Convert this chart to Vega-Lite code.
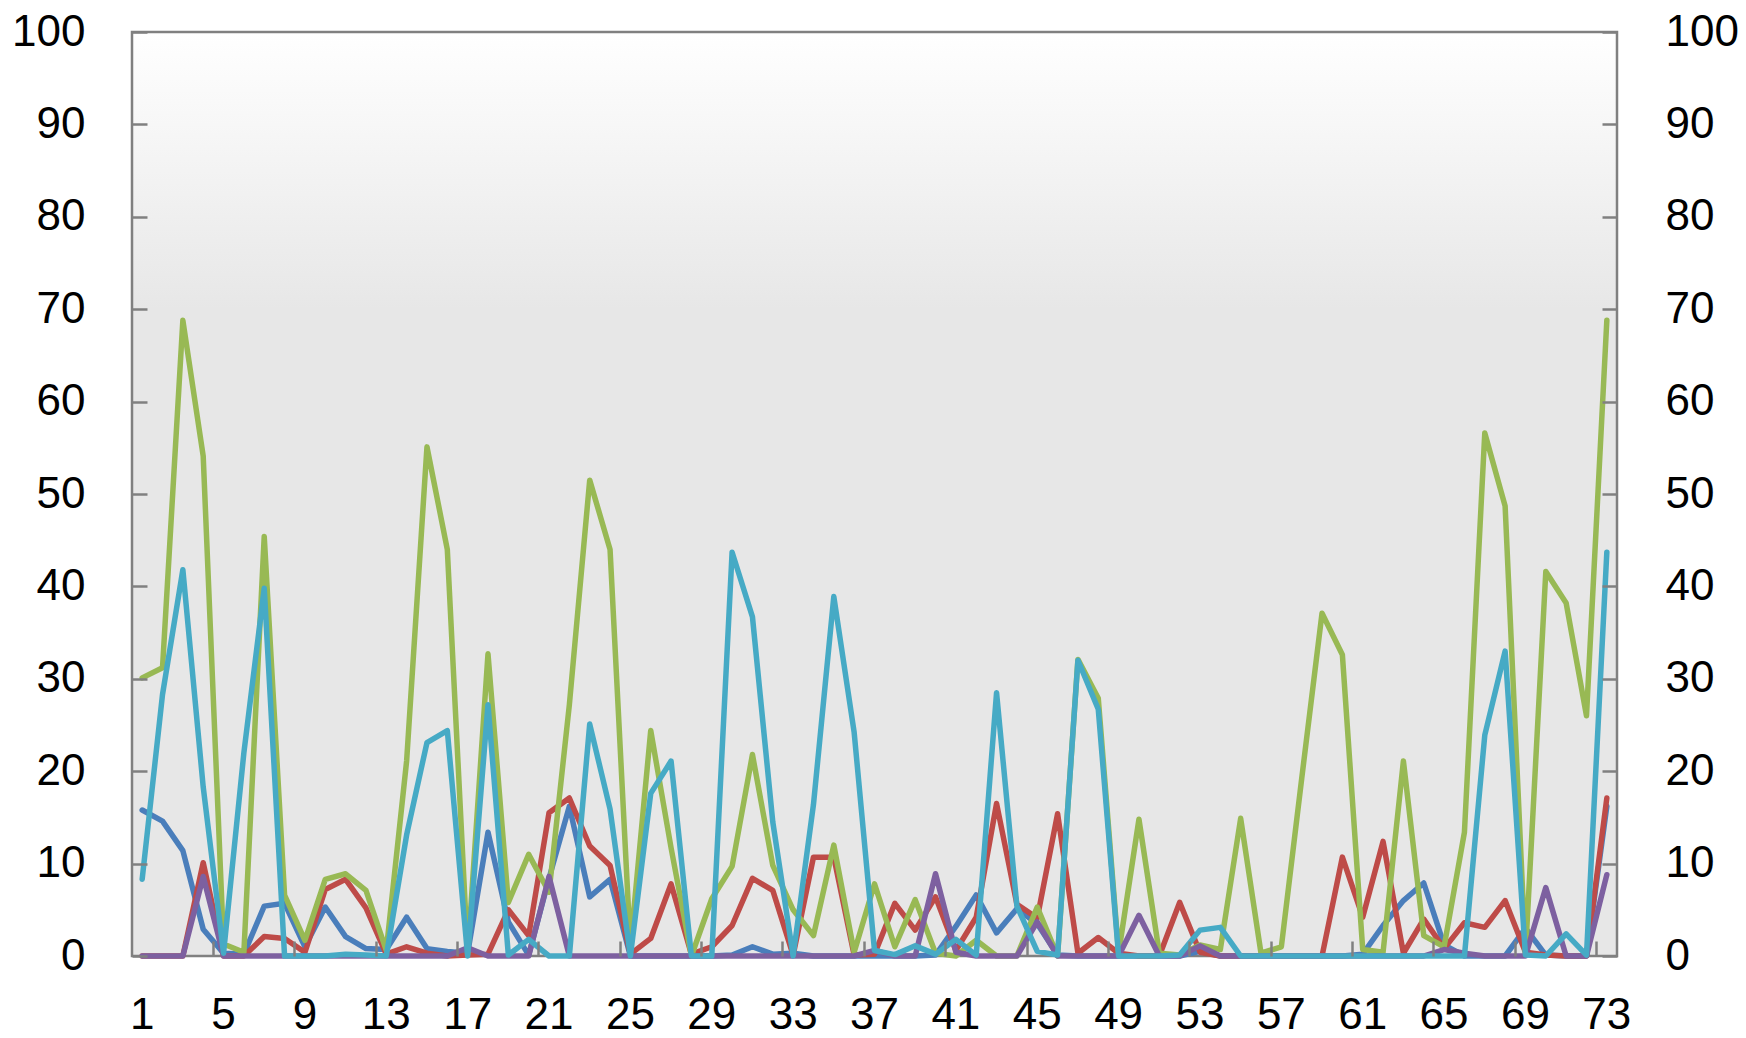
{
  "$schema": "https://vega.github.io/schema/vega-lite/v6.json",
  "width": 1485,
  "height": 924,
  "autosize": {"type": "none"},
  "padding": {"left": 132, "top": 32, "right": 129, "bottom": 82},
  "background": "white",
  "config": {
    "view": {"stroke": null},
    "axis": {
      "labelFont": "Liberation Sans",
      "labelFontSize": 44,
      "labelColor": "#000000",
      "tickColor": "#808080",
      "tickWidth": 2.5,
      "labelFlush": false,
      "labelOverlap": false,
      "grid": false,
      "domain": false,
      "title": null
    }
  },
  "datasets": {
    "blue": [
      {"x":1,"v":15.8},{"x":2,"v":14.6},{"x":3,"v":11.4},{"x":4,"v":2.9},{"x":5,"v":0.3},{"x":6,"v":0.2},{"x":7,"v":5.4},{"x":8,"v":5.7},{"x":9,"v":1.0},{"x":10,"v":5.3},
      {"x":11,"v":2.1},{"x":12,"v":0.8},{"x":13,"v":0.7},{"x":14,"v":4.2},{"x":15,"v":0.8},{"x":16,"v":0.5},{"x":17,"v":0.3},{"x":18,"v":13.4},{"x":19,"v":3.7},{"x":20,"v":0.1},
      {"x":21,"v":8.4},{"x":22,"v":16.2},{"x":23,"v":6.4},{"x":24,"v":8.3},{"x":25,"v":0},{"x":26,"v":0},{"x":27,"v":0},{"x":28,"v":0},{"x":29,"v":0},{"x":30,"v":0.1},
      {"x":31,"v":1.0},{"x":32,"v":0.2},{"x":33,"v":0.3},{"x":34,"v":0},{"x":35,"v":0},{"x":36,"v":0},{"x":37,"v":0},{"x":38,"v":0},{"x":39,"v":0},{"x":40,"v":0.1},
      {"x":41,"v":3.2},{"x":42,"v":6.6},{"x":43,"v":2.5},{"x":44,"v":5.1},{"x":45,"v":3.5},{"x":46,"v":0.1},{"x":47,"v":0},{"x":48,"v":0},{"x":49,"v":0},{"x":50,"v":0},
      {"x":51,"v":0},{"x":52,"v":0},{"x":53,"v":0.5},{"x":54,"v":0},{"x":55,"v":0},{"x":56,"v":0},{"x":57,"v":0},{"x":58,"v":0},{"x":59,"v":0},{"x":60,"v":0},
      {"x":61,"v":0.2},{"x":62,"v":3.3},{"x":63,"v":6.0},{"x":64,"v":7.9},{"x":65,"v":1.2},{"x":66,"v":0},{"x":67,"v":0},{"x":68,"v":0},{"x":69,"v":3.0},{"x":70,"v":0.1},
      {"x":71,"v":0},{"x":72,"v":0},{"x":73,"v":16.2}
    ],
    "red": [
      {"x":1,"v":0},{"x":2,"v":0},{"x":3,"v":0},{"x":4,"v":10.1},{"x":5,"v":0},{"x":6,"v":0},{"x":7,"v":2.1},{"x":8,"v":1.9},{"x":9,"v":0.4},{"x":10,"v":7.2},
      {"x":11,"v":8.3},{"x":12,"v":5.2},{"x":13,"v":0.2},{"x":14,"v":1.0},{"x":15,"v":0.3},{"x":16,"v":0},{"x":17,"v":0.1},{"x":18,"v":0.2},{"x":19,"v":5.0},{"x":20,"v":2.2},
      {"x":21,"v":15.5},{"x":22,"v":17.1},{"x":23,"v":11.9},{"x":24,"v":9.8},{"x":25,"v":0.2},{"x":26,"v":1.9},{"x":27,"v":7.8},{"x":28,"v":0.2},{"x":29,"v":1.0},{"x":30,"v":3.3},
      {"x":31,"v":8.4},{"x":32,"v":7.1},{"x":33,"v":0.1},{"x":34,"v":10.7},{"x":35,"v":10.7},{"x":36,"v":0.1},{"x":37,"v":0.2},{"x":38,"v":5.7},{"x":39,"v":2.8},{"x":40,"v":6.4},
      {"x":41,"v":0.6},{"x":42,"v":4.2},{"x":43,"v":16.5},{"x":44,"v":5.6},{"x":45,"v":4.1},{"x":46,"v":15.4},{"x":47,"v":0.3},{"x":48,"v":2.0},{"x":49,"v":0.3},{"x":50,"v":0},
      {"x":51,"v":0},{"x":52,"v":5.8},{"x":53,"v":0.4},{"x":54,"v":0},{"x":55,"v":0},{"x":56,"v":0},{"x":57,"v":0},{"x":58,"v":0},{"x":59,"v":0},{"x":60,"v":10.7},
      {"x":61,"v":4.2},{"x":62,"v":12.4},{"x":63,"v":0.3},{"x":64,"v":4.0},{"x":65,"v":0.8},{"x":66,"v":3.6},{"x":67,"v":3.1},{"x":68,"v":6.0},{"x":69,"v":0.4},{"x":70,"v":0.1},
      {"x":71,"v":0},{"x":72,"v":0},{"x":73,"v":17.1}
    ],
    "green": [
      {"x":1,"v":30.1},{"x":2,"v":31.2},{"x":3,"v":68.8},{"x":4,"v":54.1},{"x":5,"v":1.3},{"x":6,"v":0.4},{"x":7,"v":45.4},{"x":8,"v":6.6},{"x":9,"v":1.7},{"x":10,"v":8.3},
      {"x":11,"v":8.9},{"x":12,"v":7.1},{"x":13,"v":0.6},{"x":14,"v":21.1},{"x":15,"v":55.1},{"x":16,"v":44.0},{"x":17,"v":0.2},{"x":18,"v":32.7},{"x":19,"v":5.8},{"x":20,"v":11.0},
      {"x":21,"v":6.9},{"x":22,"v":27.2},{"x":23,"v":51.5},{"x":24,"v":44.0},{"x":25,"v":1.0},{"x":26,"v":24.4},{"x":27,"v":11.7},{"x":28,"v":0},{"x":29,"v":6.2},{"x":30,"v":9.7},
      {"x":31,"v":21.8},{"x":32,"v":9.8},{"x":33,"v":5.0},{"x":34,"v":2.2},{"x":35,"v":12.0},{"x":36,"v":0.4},{"x":37,"v":7.8},{"x":38,"v":1.0},{"x":39,"v":6.1},{"x":40,"v":0.3},
      {"x":41,"v":0},{"x":42,"v":1.7},{"x":43,"v":0},{"x":44,"v":0},{"x":45,"v":5.3},{"x":46,"v":0},{"x":47,"v":32.1},{"x":48,"v":27.9},{"x":49,"v":0.3},{"x":50,"v":14.8},
      {"x":51,"v":0.3},{"x":52,"v":0.1},{"x":53,"v":1.2},{"x":54,"v":0.7},{"x":55,"v":14.9},{"x":56,"v":0.3},{"x":57,"v":1.0},{"x":58,"v":19.2},{"x":59,"v":37.1},{"x":60,"v":32.6},
      {"x":61,"v":0.7},{"x":62,"v":0.4},{"x":63,"v":21.1},{"x":64,"v":2.2},{"x":65,"v":1.0},{"x":66,"v":13.4},{"x":67,"v":56.6},{"x":68,"v":48.7},{"x":69,"v":0.2},{"x":70,"v":41.6},
      {"x":71,"v":38.2},{"x":72,"v":26.0},{"x":73,"v":68.8}
    ],
    "purple": [
      {"x":1,"v":0},{"x":2,"v":0},{"x":3,"v":0},{"x":4,"v":8.6},{"x":5,"v":0},{"x":6,"v":0},{"x":7,"v":0},{"x":8,"v":0},{"x":9,"v":0},{"x":10,"v":0},
      {"x":11,"v":0},{"x":12,"v":0},{"x":13,"v":0},{"x":14,"v":0},{"x":15,"v":0},{"x":16,"v":0},{"x":17,"v":0.9},{"x":18,"v":0},{"x":19,"v":0},{"x":20,"v":0},
      {"x":21,"v":8.6},{"x":22,"v":0},{"x":23,"v":0},{"x":24,"v":0},{"x":25,"v":0},{"x":26,"v":0},{"x":27,"v":0},{"x":28,"v":0},{"x":29,"v":0},{"x":30,"v":0},
      {"x":31,"v":0},{"x":32,"v":0},{"x":33,"v":0},{"x":34,"v":0},{"x":35,"v":0},{"x":36,"v":0},{"x":37,"v":0.6},{"x":38,"v":0},{"x":39,"v":0},{"x":40,"v":8.9},
      {"x":41,"v":0.4},{"x":42,"v":0},{"x":43,"v":0},{"x":44,"v":0},{"x":45,"v":3.7},{"x":46,"v":0},{"x":47,"v":0},{"x":48,"v":0},{"x":49,"v":0},{"x":50,"v":4.4},
      {"x":51,"v":0},{"x":52,"v":0},{"x":53,"v":1.1},{"x":54,"v":0},{"x":55,"v":0},{"x":56,"v":0},{"x":57,"v":0},{"x":58,"v":0},{"x":59,"v":0},{"x":60,"v":0},
      {"x":61,"v":0},{"x":62,"v":0},{"x":63,"v":0},{"x":64,"v":0},{"x":65,"v":0.7},{"x":66,"v":0.3},{"x":67,"v":0},{"x":68,"v":0},{"x":69,"v":0},{"x":70,"v":7.4},
      {"x":71,"v":0},{"x":72,"v":0},{"x":73,"v":8.8}
    ],
    "cyan": [
      {"x":1,"v":8.3},{"x":2,"v":28.3},{"x":3,"v":41.8},{"x":4,"v":18.3},{"x":5,"v":0.3},{"x":6,"v":22.0},{"x":7,"v":39.8},{"x":8,"v":0},{"x":9,"v":0},{"x":10,"v":0},
      {"x":11,"v":0.2},{"x":12,"v":0.1},{"x":13,"v":0},{"x":14,"v":13.1},{"x":15,"v":23.1},{"x":16,"v":24.4},{"x":17,"v":0},{"x":18,"v":27.2},{"x":19,"v":0.1},{"x":20,"v":1.8},
      {"x":21,"v":0},{"x":22,"v":0},{"x":23,"v":25.1},{"x":24,"v":15.9},{"x":25,"v":0},{"x":26,"v":17.6},{"x":27,"v":21.1},{"x":28,"v":0},{"x":29,"v":0},{"x":30,"v":43.7},
      {"x":31,"v":36.7},{"x":32,"v":14.5},{"x":33,"v":0},{"x":34,"v":16.4},{"x":35,"v":38.9},{"x":36,"v":24.2},{"x":37,"v":0.6},{"x":38,"v":0.15},{"x":39,"v":1.1},{"x":40,"v":0.2},
      {"x":41,"v":1.8},{"x":42,"v":0.1},{"x":43,"v":28.5},{"x":44,"v":5.4},{"x":45,"v":0.5},{"x":46,"v":0.1},{"x":47,"v":32.0},{"x":48,"v":26.7},{"x":49,"v":0},{"x":50,"v":0},
      {"x":51,"v":0},{"x":52,"v":0.1},{"x":53,"v":2.8},{"x":54,"v":3.1},{"x":55,"v":0},{"x":56,"v":0},{"x":57,"v":0},{"x":58,"v":0},{"x":59,"v":0},{"x":60,"v":0},
      {"x":61,"v":0},{"x":62,"v":0},{"x":63,"v":0},{"x":64,"v":0},{"x":65,"v":0},{"x":66,"v":0},{"x":67,"v":23.9},{"x":68,"v":33.0},{"x":69,"v":0.1},{"x":70,"v":0},
      {"x":71,"v":2.4},{"x":72,"v":0.1},{"x":73,"v":43.7}
    ]
  },
  "layer": [
    {
      "data": {"values": [{}]},
      "mark": {
        "type": "rect",
        "stroke": "#808080",
        "strokeWidth": 2.5,
        "fill": {"gradient": "linear", "x1": 0, "y1": 0, "x2": 0, "y2": 1,
          "stops": [{"offset": 0, "color": "#ffffff"}, {"offset": 0.3, "color": "#e7e7e7"}, {"offset": 1, "color": "#e7e7e7"}]}
      },
      "encoding": {}
    },
    {
      "data": {"name": "blue"},
      "mark": {"type": "line", "color": "#4a7ebb", "strokeWidth": 5.5, "strokeJoin": "round", "strokeCap": "round"},
      "encoding": {
        "x": {"field": "x", "type": "ordinal", "scale": {"type": "band", "paddingInner": 0, "paddingOuter": 0},
          "axis": {"orient": "bottom", "zindex": 2, "values": [1,5,9,13,17,21,25,29,33,37,41,45,49,53,57,61,65,69,73], "ticks": false, "labelPadding": 37, "labelAngle": 0}},
        "y": {"field": "v", "type": "quantitative", "scale": {"domain": [0, 100], "nice": false},
          "axis": {"orient": "left", "zindex": 2, "values": [0,10,20,30,40,50,60,70,80,90,100], "ticks": true, "tickSize": -15, "labelPadding": 62}}
      }
    },
    {
      "data": {"name": "red"},
      "mark": {"type": "line", "color": "#be4b48", "strokeWidth": 5.5, "strokeJoin": "round", "strokeCap": "round"},
      "encoding": {
        "x": {"field": "x", "type": "ordinal", "scale": {"type": "band", "paddingInner": 0, "paddingOuter": 0},
          "axis": {"orient": "bottom", "zindex": 2, "values": [5,9,13,17,21,25,29,33,37,41,45,49,53,57,61,65,69,73], "labels": false, "ticks": true, "tickSize": -15, "bandPosition": 0}},
        "y": {"field": "v", "type": "quantitative", "scale": {"domain": [0, 100], "nice": false},
          "axis": {"orient": "right", "zindex": 2, "values": [0,10,20,30,40,50,60,70,80,90,100], "ticks": true, "tickSize": -15, "labelPadding": 63}}
      }
    },
    {
      "data": {"name": "green"},
      "mark": {"type": "line", "color": "#98b954", "strokeWidth": 5.5, "strokeJoin": "round", "strokeCap": "round"},
      "encoding": {
        "x": {"field": "x", "type": "ordinal", "scale": {"type": "band", "paddingInner": 0, "paddingOuter": 0}, "axis": null},
        "y": {"field": "v", "type": "quantitative", "scale": {"domain": [0, 100], "nice": false}, "axis": null}
      }
    },
    {
      "data": {"name": "purple"},
      "mark": {"type": "line", "color": "#7d60a0", "strokeWidth": 5.5, "strokeJoin": "round", "strokeCap": "round"},
      "encoding": {
        "x": {"field": "x", "type": "ordinal", "scale": {"type": "band", "paddingInner": 0, "paddingOuter": 0}, "axis": null},
        "y": {"field": "v", "type": "quantitative", "scale": {"domain": [0, 100], "nice": false}, "axis": null}
      }
    },
    {
      "data": {"name": "cyan"},
      "mark": {"type": "line", "color": "#46aac5", "strokeWidth": 5.5, "strokeJoin": "round", "strokeCap": "round"},
      "encoding": {
        "x": {"field": "x", "type": "ordinal", "scale": {"type": "band", "paddingInner": 0, "paddingOuter": 0}, "axis": null},
        "y": {"field": "v", "type": "quantitative", "scale": {"domain": [0, 100], "nice": false}, "axis": null}
      }
    }
  ],
  "resolve": {"axis": {"x": "independent", "y": "independent"}}
}
